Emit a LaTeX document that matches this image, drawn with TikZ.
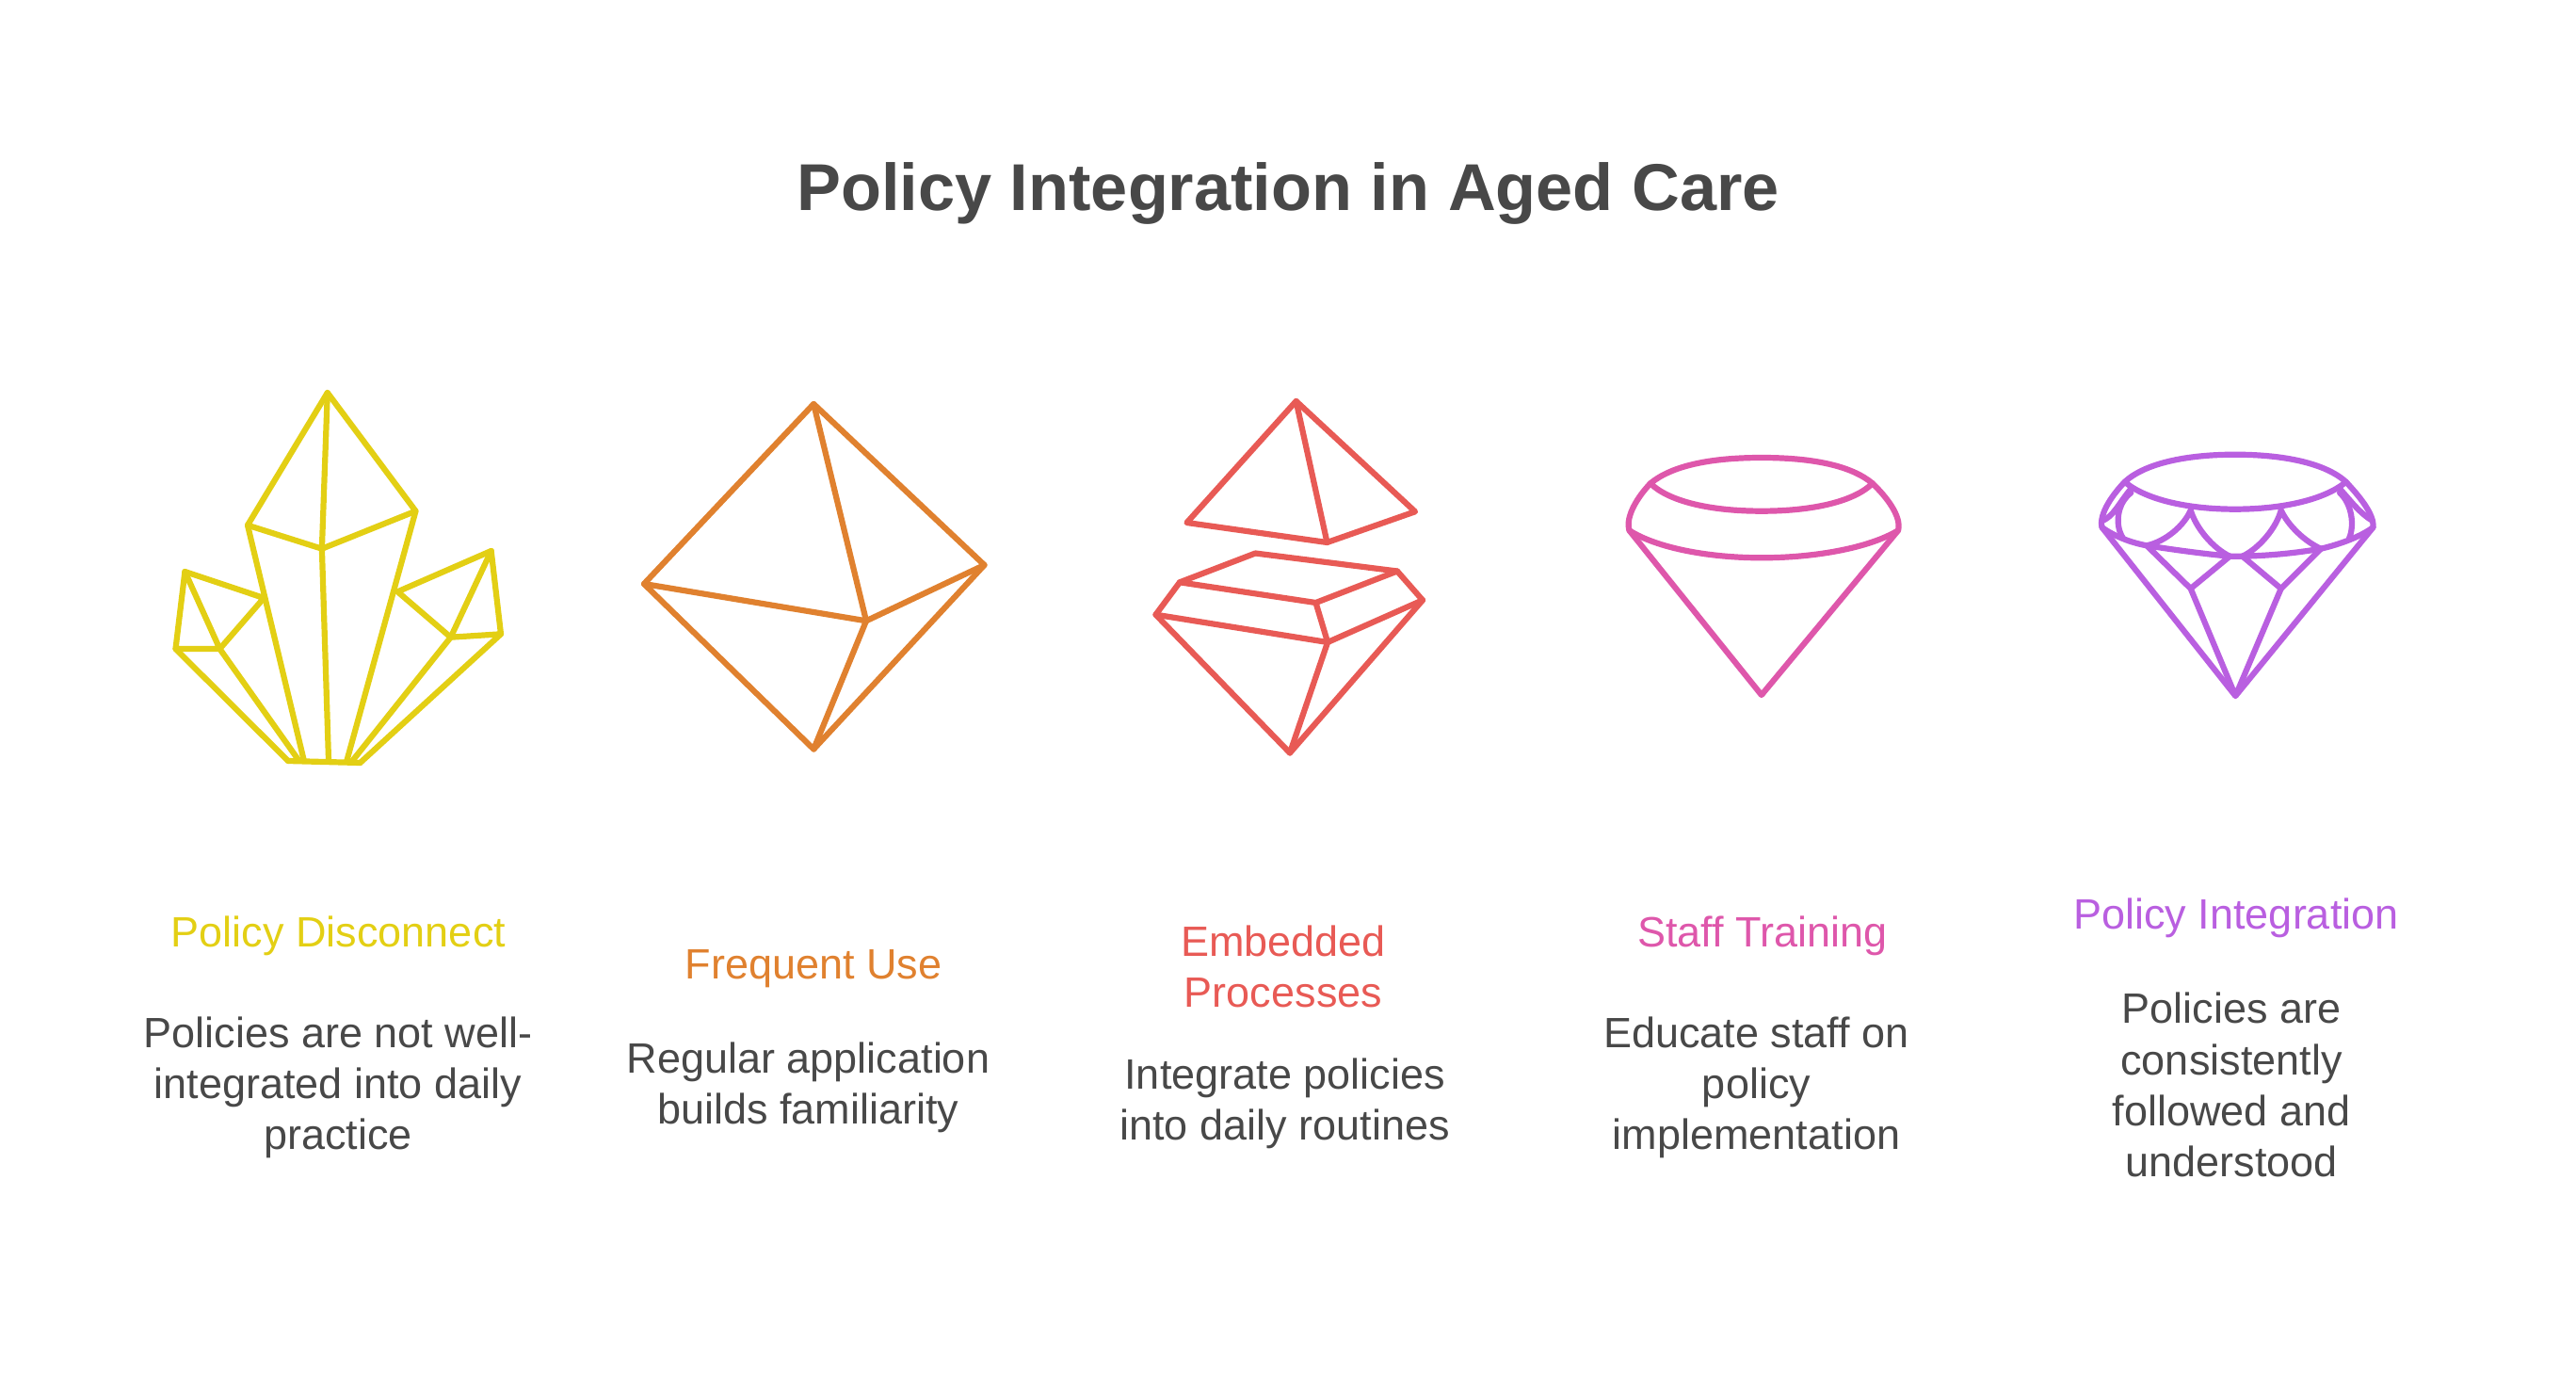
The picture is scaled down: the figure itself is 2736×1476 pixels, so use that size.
\documentclass[tikz,border=0pt]{standalone}
\usepackage{fontspec}
\setmainfont{Liberation Sans}
\definecolor{cyellow}{HTML}{E3CF14}
\definecolor{corange}{HTML}{E0812F}
\definecolor{cred}{HTML}{E85A55}
\definecolor{cpink}{HTML}{DE57AB}
\definecolor{cpurple}{HTML}{B95FE0}
\definecolor{ctext}{HTML}{484848}
\tikzset{
 icon/.style={draw=#1,line width=0.062cm,line join=round,line cap=round},
 headlabel/.style={text=#1,align=center,inner sep=0pt,font=\fontsize{12.8}{15.4}\selectfont},
 bodylabel/.style={text=ctext,align=center,inner sep=0pt,font=\fontsize{12.8}{15.4}\selectfont},
 titlelabel/.style={text=ctext,inner sep=0pt,font=\fontsize{20.0}{24}\selectfont\bfseries}
}
\begin{document}
\begin{tikzpicture}[x=0.01cm,y=-0.01cm]
\useasboundingbox (0,0) rectangle (2736,1476);
\node[titlelabel] (title) at (1368,205) {Policy Integration in Aged Care};

% crystal
\begin{scope}[icon=cyellow]
\path[draw] (347.8,417) -- (263,557.7) -- (341.9,582.7) -- (441.5,542.7) -- cycle;
\path[draw] (347.8,417) -- (341.9,582.7) -- (349,807);
\path[draw] (263,557.7) -- (322.6,806.7);
\path[draw] (441.5,542.7) -- (368.3,808);
\path[draw] (306,808) -- (382.5,810);
\path[draw] (196.4,607) -- (186.5,689) -- (233.4,689) -- cycle;
\path[draw] (196.4,607) -- (280.3,635) -- (233.4,689);
\path[draw] (186.5,689) -- (306,808);
\path[draw] (233.4,689) -- (317,807);
\path[draw] (521.7,585) -- (532,673.3) -- (478.7,676.7) -- cycle;
\path[draw] (521.7,585) -- (422.3,628.3) -- (478.7,676.7);
\path[draw] (478.7,676.7) -- (374.2,808);
\path[draw] (532,673.3) -- (382.5,810);
\end{scope}

% octahedron
\begin{scope}[icon=corange]
\path[draw] (864.2,429) -- (684,620) -- (864.2,795.5) -- (1045.5,600) -- cycle;
\path[draw] (864.2,429) -- (920,659.3) -- (864.2,795.5);
\path[draw] (684,620) -- (920,659.3) -- (1045.5,600);
\end{scope}

% split gem
\begin{scope}[icon=cred]
\path[draw] (1376.6,426) -- (1260.5,555) -- (1409.5,576) -- (1503,543.3) -- cycle;
\path[draw] (1376.6,426) -- (1409.5,576);
\path[draw] (1253,618.3) -- (1333.3,587.5) -- (1484,606.5) -- (1397.5,640) -- cycle;
\path[draw] (1253,618.3) -- (1227.5,652.7) -- (1370,799.5) -- (1511,637.3) -- (1484,606.5);
\path[draw] (1227.5,652.7) -- (1410.1,682) -- (1511,637.3);
\path[draw] (1397.5,640) -- (1410.1,682) -- (1370,799.5);
\end{scope}

% pink gem
\begin{scope}[icon=cpink]
\path[draw] (1752.9,513.3) .. controls (1775,495) and (1815,486) .. (1871,486) .. controls (1927,486) and (1967,495) .. (1988.8,513.3) .. controls (1970,532) and (1927,542.7) .. (1871,542.7) .. controls (1815,542.7) and (1772,532) .. cycle;
\path[draw] (1752.9,513.3) .. controls (1740,527) and (1726,548) .. (1730.5,563.3) .. controls (1760,582) and (1815,592.3) .. (1871,592.3) .. controls (1927,592.3) and (1985,582) .. (2016,563.3) .. controls (2020,548) and (2003,527) .. (1988.8,513.3);
\path[draw] (1730.5,563.3) -- (1870.9,738) -- (2016,563.3);
\end{scope}

% purple gem
\begin{scope}[icon=cpurple]
\path[draw] (2256.7,511.7) .. controls (2278,492) and (2322,482.7) .. (2374,482.7) .. controls (2426,482.7) and (2470,492) .. (2491.7,511.7) .. controls (2470,530) and (2426,540.7) .. (2374,540.7) .. controls (2322,540.7) and (2278,530) .. cycle;
\path[draw] (2256.7,511.7) .. controls (2245,524) and (2229,545) .. (2232.5,560) .. controls (2245,569) and (2262,576) .. (2280,579.3) .. controls (2310,584) and (2340,588) .. (2368.3,590.7) -- (2381.7,590.7) .. controls (2412,590) and (2440,587) .. (2465,582.7) .. controls (2485,578) and (2507,570) .. (2520.5,560) .. controls (2522,545) and (2503,524) .. (2491.7,511.7);
\path[draw] (2232.5,560) -- (2374.3,739) -- (2520.5,560);
\path[draw] (2280,579.3) -- (2326.7,625) -- (2374.3,739) -- (2422.7,625) -- (2465,582.7);
\path[draw] (2326.7,625) -- (2368.3,590.7);
\path[draw] (2422.7,625) -- (2381.7,590.7);
\path[draw] (2280,579.3) .. controls (2300,575) and (2320,558) .. (2326.7,541.7) .. controls (2332,560) and (2350,582) .. (2368.3,590.7);
\path[draw] (2381.7,590.7) .. controls (2400,582) and (2418,560) .. (2422.7,541.7) .. controls (2430,558) and (2448,575) .. (2465,582.7);
\path[draw] (2263.3,523.3) .. controls (2248,535) and (2246,558) .. (2255,571.7);
\path[draw] (2485,523.3) .. controls (2498,535) and (2501,558) .. (2495,571.7);
\path[draw] (2263.3,519) .. controls (2250,535) and (2245,548) .. (2233,553);
\path[draw] (2485,519) .. controls (2497,532) and (2506,545) .. (2520,553);
\end{scope}

% labels
\node[headlabel=cyellow] (h1) at (359.5,994) {Policy Disconnect};
\node[bodylabel] (b1) at (359,1155) {Policies are not well-\\integrated into daily\\practice};
\node[headlabel=corange] (h2) at (864,1029) {Frequent Use};
\node[bodylabel] (b2) at (858.5,1155) {Regular application\\builds familiarity};
\node[headlabel=cred] (h3) at (1363,1026) {Embedded\\Processes};
\node[bodylabel] (b3) at (1364.6,1172) {Integrate policies\\into daily routines};
\node[headlabel=cpink] (h4) at (1872,994) {Staff Training};
\node[bodylabel] (b4) at (1865.5,1155) {Educate staff on\\policy\\implementation};
\node[headlabel=cpurple] (h5) at (2375,975) {Policy Integration};
\node[bodylabel] (b5) at (2370,1152) {Policies are\\consistently\\followed and\\understood};
\end{tikzpicture}
\end{document}
